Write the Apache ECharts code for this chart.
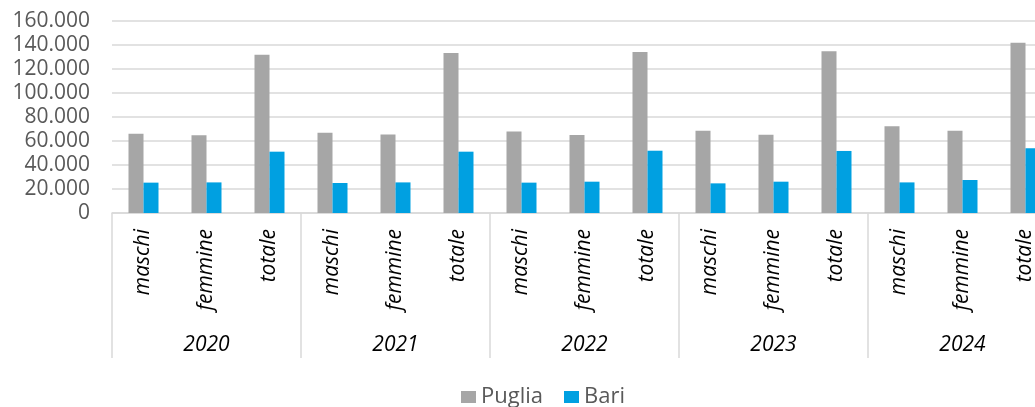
<!DOCTYPE html>
<html>
<head>
<meta charset="utf-8">
<script src="https://cdn.jsdelivr.net/npm/echarts@6/dist/echarts.min.js"></script>
<style>
  html, body { margin: 0; padding: 0; background: #fff; }
  #chart { width: 1035px; height: 407px; }
</style>
</head>
<body>
<div id="chart"></div>
<script>
// data
var years = ["2020", "2021", "2022", "2023", "2024"];
var subCategories = ["maschi", "femmine", "totale"];
var puglia = [
  66100, 64700, 131900,
  66900, 65500, 133300,
  68000, 65000, 134200,
  68600, 65300, 134700,
  72200, 68600, 141900
];
var bari = [
  25300, 25500, 51100,
  25000, 25500, 51100,
  25300, 26100, 51900,
  24700, 26100, 51700,
  25500, 27500, 53900
];

var categories = [];
years.forEach(function () {
  subCategories.forEach(function (s) { categories.push(s); });
});

var FONT = "Open Sans";
var chart = echarts.init(document.getElementById("chart"));

chart.setOption({
  animation: false,
  backgroundColor: "#ffffff",
  textStyle: { fontFamily: FONT },
  grid: {
    left: 112,
    top: 21,
    width: 945,
    bottom: 194,
    outerBoundsMode: "none"
  },
  legend: {
    bottom: -6,
    left: 456,
    icon: "rect",
    itemWidth: 15,
    itemHeight: 12,
    itemGap: 21,
    textStyle: { fontSize: 22, color: "#595959", fontFamily: FONT },
    data: ["Puglia", "Bari"]
  },
  xAxis: [
    {
      type: "category",
      data: categories,
      axisLine: { lineStyle: { color: "#d9d9d9", width: 1.5 } },
      axisTick: { show: false },
      axisLabel: {
        interval: 0,
        rotate: 90,
        margin: 16,
        fontSize: 21,
        fontStyle: "italic",
        color: "#000000",
        fontFamily: FONT
      }
    },
    {
      type: "category",
      data: years,
      position: "bottom",
      axisLine: { show: false },
      axisTick: {
        show: true,
        length: 145,
        lineStyle: { color: "#d9d9d9", width: 1.5 }
      },
      axisLabel: {
        margin: 122,
        fontSize: 21,
        fontStyle: "italic",
        color: "#000000",
        fontFamily: FONT
      }
    }
  ],
  yAxis: {
    type: "value",
    min: 0,
    max: 160000,
    interval: 20000,
    axisLine: { show: false },
    axisTick: { show: false },
    splitLine: { lineStyle: { color: "#d9d9d9", width: 1.5 } },
    axisLabel: {
      margin: 22,
      fontSize: 21,
      color: "#595959",
      fontFamily: FONT,
      formatter: function (v) {
        return String(v).replace(/\B(?=(\d{3})+(?!\d))/g, ".");
      }
    }
  },
  series: [
    {
      name: "Puglia",
      type: "bar",
      data: puglia,
      barWidth: 15,
      barGap: "0%",
      itemStyle: { color: "#a6a6a6" }
    },
    {
      name: "Bari",
      type: "bar",
      data: bari,
      barWidth: 15,
      barGap: "0%",
      itemStyle: { color: "#00a0e1" }
    }
  ]
});
</script>
</body>
</html>
